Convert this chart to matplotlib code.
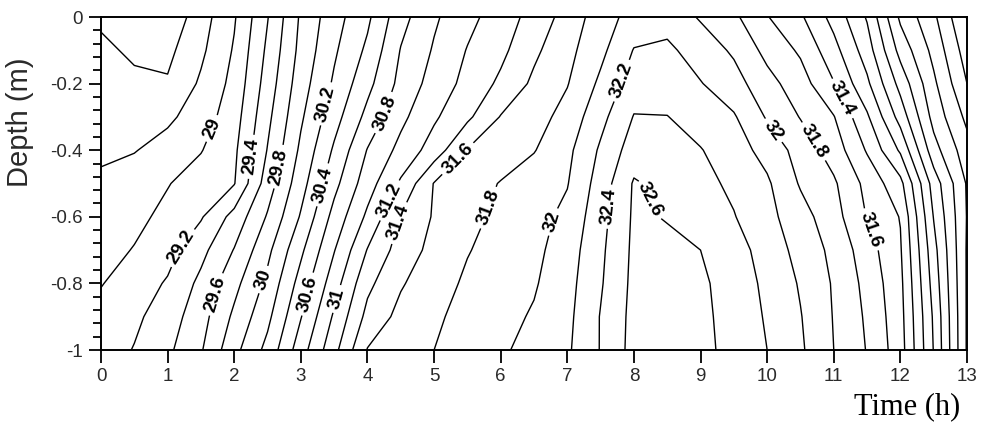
import numpy as np
import matplotlib
matplotlib.use("Agg")
import matplotlib.pyplot as plt
from matplotlib.ticker import MultipleLocator

plt.rcParams['font.family'] = ['Liberation Sans', 'DejaVu Sans']

# ---- data ----
times = [0, 0.5, 1, 1.5, 2, 2.5, 3, 3.5, 4, 4.5, 5, 5.5, 6, 6.5,
         7, 7.5, 8, 8.5, 9, 9.5, 10, 10.5, 11, 11.5, 12, 12.5, 13]
depths = [-1.0, -0.9, -0.8, -0.7, -0.6, -0.5, -0.4, -0.3, -0.2, -0.1, 0.0]

temp_d100 = [29.10, 29.21, 29.36, 29.58, 29.94, 30.26, 30.71, 31.14, 31.61, 31.70, 31.80, 31.88, 31.97, 32.07, 32.17, 32.41, 32.67, 32.70, 32.66, 32.53, 32.40, 32.23, 32.00, 31.79, 31.49, 30.79, 29.98]
temp_d090 = [29.07, 29.16, 29.30, 29.52, 29.84, 30.15, 30.59, 31.03, 31.46, 31.66, 31.77, 31.86, 31.94, 32.02, 32.15, 32.41, 32.66, 32.68, 32.65, 32.52, 32.38, 32.21, 31.99, 31.77, 31.47, 30.77, 29.98]
temp_d080 = [28.99, 29.10, 29.22, 29.45, 29.74, 30.05, 30.48, 30.91, 31.35, 31.58, 31.72, 31.83, 31.91, 31.98, 32.13, 32.38, 32.65, 32.66, 32.64, 32.50, 32.36, 32.18, 31.98, 31.74, 31.45, 30.72, 29.98]
temp_d070 = [28.93, 29.01, 29.13, 29.34, 29.61, 29.95, 30.36, 30.79, 31.21, 31.49, 31.66, 31.79, 31.87, 31.95, 32.10, 32.36, 32.64, 32.64, 32.60, 32.48, 32.32, 32.13, 31.95, 31.69, 31.42, 30.67, 29.98]
temp_d060 = [28.88, 28.95, 29.05, 29.18, 29.47, 29.82, 30.22, 30.67, 31.04, 31.41, 31.62, 31.74, 31.85, 31.93, 32.05, 32.33, 32.63, 32.59, 32.50, 32.41, 32.26, 32.08, 31.88, 31.59, 31.39, 30.59, 29.99]
temp_d050 = [28.84, 28.90, 28.99, 29.09, 29.19, 29.70, 30.12, 30.54, 30.91, 31.23, 31.61, 31.71, 31.81, 31.90, 31.99, 32.29, 32.62, 32.54, 32.46, 32.36, 32.23, 31.98, 31.83, 31.54, 31.26, 30.51, 29.98]
temp_d040 = [28.76, 28.79, 28.88, 28.99, 29.16, 29.61, 30.04, 30.43, 30.81, 31.06, 31.29, 31.61, 31.70, 31.79, 31.95, 32.23, 32.50, 32.48, 32.41, 32.29, 32.13, 31.92, 31.71, 31.38, 30.97, 30.28, 29.88]
temp_d030 = [28.72, 28.72, 28.76, 28.90, 29.11, 29.55, 29.97, 30.32, 30.66, 30.95, 31.17, 31.36, 31.61, 31.72, 31.87, 32.14, 32.41, 32.405, 32.31, 32.22, 31.98, 31.79, 31.61, 31.23, 30.72, 30.13, 29.75]
temp_d020 = [28.70, 28.66, 28.62, 28.83, 29.06, 29.49, 29.91, 30.23, 30.54, 30.86, 31.08, 31.26, 31.44, 31.64, 31.79, 32.04, 32.30, 32.30, 32.21, 32.08, 31.87, 31.69, 31.41, 31.04, 30.53, 30.04, 29.60]
temp_d010 = [28.66, 28.55, 28.55, 28.76, 29.02, 29.44, 29.86, 30.17, 30.44, 30.81, 31.02, 31.21, 31.35, 31.56, 31.74, 31.95, 32.21, 32.24, 32.11, 31.97, 31.74, 31.57, 31.27, 30.90, 30.33, 29.94, 29.50]
temp_d000 = [28.55, 28.45, 28.45, 28.71, 28.98, 29.39, 29.83, 30.12, 30.36, 30.73, 30.97, 31.14, 31.30, 31.47, 31.68, 31.90, 32.08, 32.12, 31.98, 31.84, 31.61, 31.43, 31.13, 30.78, 30.16, 29.84, 29.39]

levels = [28.6, 28.8, 29.0, 29.2, 29.4, 29.6, 29.8, 30.0, 30.2, 30.4, 30.6,
          30.8, 31.0, 31.2, 31.4, 31.6, 31.8, 32.0, 32.2, 32.4, 32.6]

label_levels = [29.0, 29.2, 29.4, 29.6, 29.8, 30.0, 30.2, 30.4, 30.6, 30.8, 31.0,
                31.2, 31.4, 31.6, 31.8, 32.0, 32.2, 32.4, 32.6, 32.0, 31.8, 31.4, 31.6]

x_ticks = [0, 1, 2, 3, 4, 5, 6, 7, 8, 9, 10, 11, 12, 13]
y_ticks = [0, -0.2, -0.4, -0.6, -0.8, -1.0]
y_ticklabels = ['0', '-0.2', '-0.4', '-0.6', '-0.8', '-1']

# label anchor positions (layout)
label_spots = [(1.73, -0.34), (1.26, -0.70), (2.26, -0.42), (1.86, -0.84), (2.68, -0.45),
               (2.46, -0.79), (3.36, -0.26), (3.25, -0.50), (3.06, -0.83), (4.13, -0.28),
               (3.60, -0.85), (4.22, -0.54), (4.50, -0.62), (5.43, -0.44), (5.78, -0.57),
               (6.88, -0.62), (7.80, -0.19), (7.65, -0.57), (8.23, -0.55), (10.10, -0.34),
               (10.73, -0.37), (11.08, -0.25), (11.53, -0.64)]

temp = np.array([temp_d100, temp_d090, temp_d080, temp_d070, temp_d060, temp_d050,
                 temp_d040, temp_d030, temp_d020, temp_d010, temp_d000])

# ---- figure ----
fig = plt.figure(figsize=(9.85, 4.25), dpi=100)
ax = fig.add_axes([0.10254, 0.17647, 0.87919, 0.78353])

cs = ax.contour(times, depths, temp, levels=levels, colors='black', linewidths=1.0)

ax.set_xlim(0, 13)
ax.set_ylim(-1, 0)
ax.set_xticks(x_ticks)
ax.set_xticklabels([str(v) for v in x_ticks])
ax.set_yticks(y_ticks)
ax.set_yticklabels(y_ticklabels)
ax.yaxis.set_minor_locator(MultipleLocator(0.04))
ax.tick_params(axis='both', which='major', direction='out', length=9, width=1.3,
               labelsize=13.5, labelcolor='#2a2a2a', pad=4)
ax.tick_params(axis='y', which='minor', direction='out', length=6, width=1.3)
for sp in ax.spines.values():
    sp.set_linewidth(1.4)

fig.text(20 / 985, 1 - 122 / 425, 'Depth (m)', rotation=90, ha='center', va='center',
         fontsize=21, color='#2a2a2a')
fig.text(960 / 985, 1 - 414 / 425, 'Time (h)', ha='right', va='baseline',
         fontsize=22, family=['Liberation Serif', 'DejaVu Serif'], color='black')

# snap each label anchor onto the contour of its own level
trans = ax.transData
snapped = []
for lev, spot in zip(label_levels, label_spots):
    segs = cs.allsegs[levels.index(lev)]
    target = trans.transform(spot)
    best, best_d = None, np.inf
    for seg in segs:
        if len(seg) < 2:
            continue
        p = trans.transform(seg)
        a, b = p[:-1], p[1:]
        ab = b - a
        L2 = (ab ** 2).sum(1)
        L2[L2 == 0] = 1e-12
        u = np.clip(((target - a) * ab).sum(1) / L2, 0, 1)
        proj = a + ab * u[:, None]
        dist = ((proj - target) ** 2).sum(1)
        k = np.argmin(dist)
        if dist[k] < best_d:
            best_d = dist[k]
            best = proj[k]
    snapped.append(tuple(trans.inverted().transform(best)))

with plt.rc_context({'font.weight': 'bold'}):
    ax.clabel(cs, manual=snapped, inline=True, inline_spacing=4,
              fontsize=13.5, fmt='%g', colors='black')
for t in cs.labelTexts:
    t.set_fontweight('bold')

fig.savefig('out.png', dpi=100)
